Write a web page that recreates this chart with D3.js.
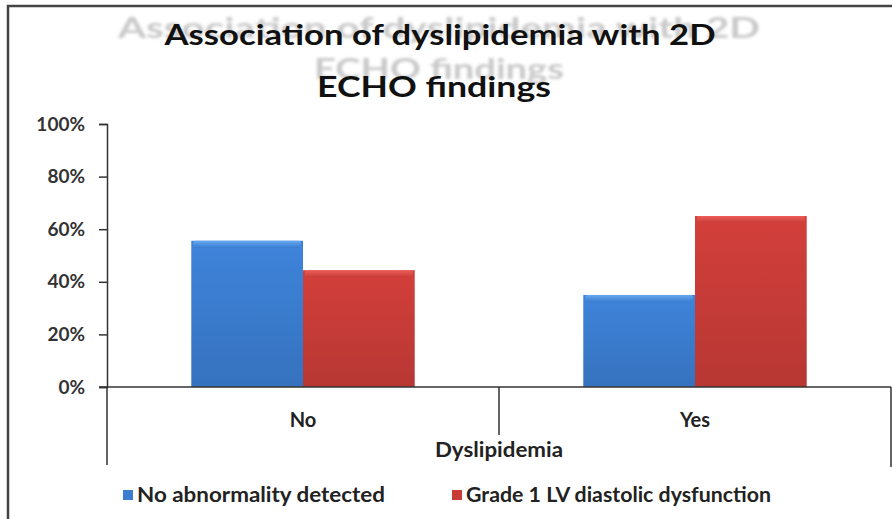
<!DOCTYPE html>
<html>
<head>
<meta charset="utf-8">
<script src="https://cdn.jsdelivr.net/npm/d3@7"></script>
<style>
  body { margin: 0; background: #fff; }
  svg { display: block; }
  text { font-family: Lato, "Open Sans", sans-serif; font-weight: bold; }
</style>
</head>
<body>
<svg id="chart" width="892" height="519"></svg>
<script>
// données
const categories = ["No", "Yes"];
const series = ["No abnormality detected", "Grade 1 LV diastolic dysfunction"];
const noAbnormality = [0.556, 0.35];
const grade1 = [0.444, 0.65];
const yTicks = [0, 0.2, 0.4, 0.6, 0.8, 1];
const titleLines = ["Association of dyslipidemia with 2D", "ECHO findings"];
const axisTitle = "Dyslipidemia";

const couleurs = ["#3b7dd0", "#c83c38"];
const clairs = ["#66a8ee", "#ee5e58"];

const svg = d3.select("#chart");
const margin = { top: 124, right: 1, bottom: 132, left: 107 };
const width = 892 - margin.left - margin.right,
    height = 519 - margin.top - margin.bottom;

// gradients + flou
const defs = svg.append("defs");
defs.append("filter").attr("id", "flou")
    .append("feGaussianBlur").attr("stdDeviation", 1.4);
couleurs.forEach((c, i) => {
    const gr = defs.append("linearGradient").attr("id", "grad" + i)
        .attr("x1", 0).attr("y1", 0).attr("x2", 0).attr("y2", 1);
    gr.append("stop").attr("offset", "0%").attr("stop-color", d3.color(c).brighter(0.15));
    gr.append("stop").attr("offset", "100%").attr("stop-color", d3.color(c).darker(0.25));
    const gh = defs.append("linearGradient").attr("id", "haut" + i)
        .attr("x1", 0).attr("y1", 0).attr("x2", 0).attr("y2", 1);
    gh.append("stop").attr("offset", "0%").attr("stop-color", clairs[i]);
    gh.append("stop").attr("offset", "100%").attr("stop-color", c);
});

// cadre
svg.append("path")
    .attr("d", "M8,519 L8,6 L892,6")
    .attr("fill", "none")
    .attr("stroke", "#444")
    .attr("stroke-width", 2.5);

// titre (fantôme + net)
const titleY = [35, 87];
const ghostY = [28, 69];
svg.append("g").attr("filter", "url(#flou)")
    .selectAll("text").data(titleLines).enter().append("text")
    .attr("x", 439)
    .attr("y", (d, i) => ghostY[i])
    .attr("dy", "0.35em")
    .attr("text-anchor", "middle")
    .attr("font-size", 29)
    .attr("textLength", (d, i) => i === 0 ? 642 : 250)
    .attr("lengthAdjust", "spacingAndGlyphs")
    .style("fill", "#c9c9c9")
    .text(d => d);
svg.append("g")
    .selectAll("text").data(titleLines).enter().append("text")
    .attr("x", (d, i) => i === 0 ? 440 : 434)
    .attr("y", (d, i) => titleY[i])
    .attr("dy", "0.35em")
    .attr("text-anchor", "middle")
    .attr("font-size", 28)
    .attr("textLength", (d, i) => i === 0 ? 551 : 234)
    .attr("lengthAdjust", "spacingAndGlyphs")
    .style("fill", "#111")
    .text(d => d);

const g = svg.append("g")
    .attr("transform", `translate(${margin.left},${margin.top})`);

// échelles
const x0 = d3.scaleBand()
    .domain(categories)
    .range([0, width])
    .paddingInner(0.43)
    .paddingOuter(0.215);
const x1 = d3.scaleBand()
    .domain(series)
    .range([0, x0.bandwidth()]);
const y = d3.scaleLinear()
    .domain([0, 1])
    .range([height, 0]);

// axe y
const yAxis = g.append("g")
    .call(d3.axisLeft(y).tickValues(yTicks).tickFormat(d3.format(".0%")).tickSize(8).tickPadding(14));
yAxis.select(".domain").attr("stroke", "#333").attr("stroke-width", 1.5);
yAxis.selectAll(".tick line").attr("stroke", "#333").attr("stroke-width", 1.5);
yAxis.selectAll(".tick text")
    .attr("font-size", 19)
    .style("fill", "#333");

// barres
const data = categories.map((c, i) => ({ cat: c, vals: [noAbnormality[i], grade1[i]] }));
const groupes = g.selectAll(".groupe")
    .data(data)
    .enter().append("g")
    .attr("transform", d => `translate(${x0(d.cat)},0)`);

groupes.selectAll("rect.bar")
    .data(d => d.vals.map((v, j) => ({ s: series[j], v: v, j: j })))
    .enter().append("rect")
    .attr("class", "bar")
    .attr("x", d => x1(d.s))
    .attr("y", d => y(d.v))
    .attr("width", x1.bandwidth())
    .attr("height", d => height - y(d.v))
    .style("fill", d => `url(#grad${d.j})`);

// biseau du haut
groupes.selectAll("rect.haut")
    .data(d => d.vals.map((v, j) => ({ s: series[j], v: v, j: j })))
    .enter().append("rect")
    .attr("class", "haut")
    .attr("x", d => x1(d.s) + 2)
    .attr("y", d => y(d.v))
    .attr("width", x1.bandwidth() - 4)
    .attr("height", 7)
    .attr("rx", 2)
    .style("fill", d => `url(#haut${d.j})`);

// axe x
g.append("line")
    .attr("x1", -8).attr("x2", width)
    .attr("y1", height).attr("y2", height)
    .attr("stroke", "#333").attr("stroke-width", 1.5);

const step = x0.step();
const bornes = [
    { x: 0, bas: 78 },
    { x: x0(categories[1]) - x0.paddingInner() * step / 2, bas: 48 },
    { x: width, bas: 80 }
];
g.selectAll(".borne")
    .data(bornes)
    .enter().append("line")
    .attr("x1", d => d.x).attr("x2", d => d.x)
    .attr("y1", height).attr("y2", d => height + d.bas)
    .attr("stroke", "#333").attr("stroke-width", 1.5);

g.selectAll(".cat")
    .data(categories)
    .enter().append("text")
    .attr("x", d => x0(d) + x0.bandwidth() / 2)
    .attr("y", height + 33)
    .attr("dy", "0.35em")
    .attr("text-anchor", "middle")
    .attr("font-size", 20)
    .style("fill", "#222")
    .text(d => d);

g.append("text")
    .attr("x", bornes[1].x)
    .attr("y", height + 63)
    .attr("dy", "0.35em")
    .attr("text-anchor", "middle")
    .attr("font-size", 20)
    .attr("textLength", 128)
    .attr("lengthAdjust", "spacingAndGlyphs")
    .style("fill", "#222")
    .text(axisTitle);

// légende
const legX = [123, 452];
const legW = [248, 305];
const leg = svg.selectAll(".leg")
    .data(series)
    .enter().append("g")
    .attr("transform", (d, i) => `translate(${legX[i]},495)`);
leg.append("rect")
    .attr("x", 0).attr("y", -5)
    .attr("width", 10).attr("height", 10)
    .style("fill", (d, i) => couleurs[i]);
leg.append("text")
    .attr("x", 14)
    .attr("dy", "0.35em")
    .attr("font-size", 20)
    .attr("textLength", (d, i) => legW[i])
    .attr("lengthAdjust", "spacingAndGlyphs")
    .style("fill", "#222")
    .text(d => d);
</script>
</body>
</html>
